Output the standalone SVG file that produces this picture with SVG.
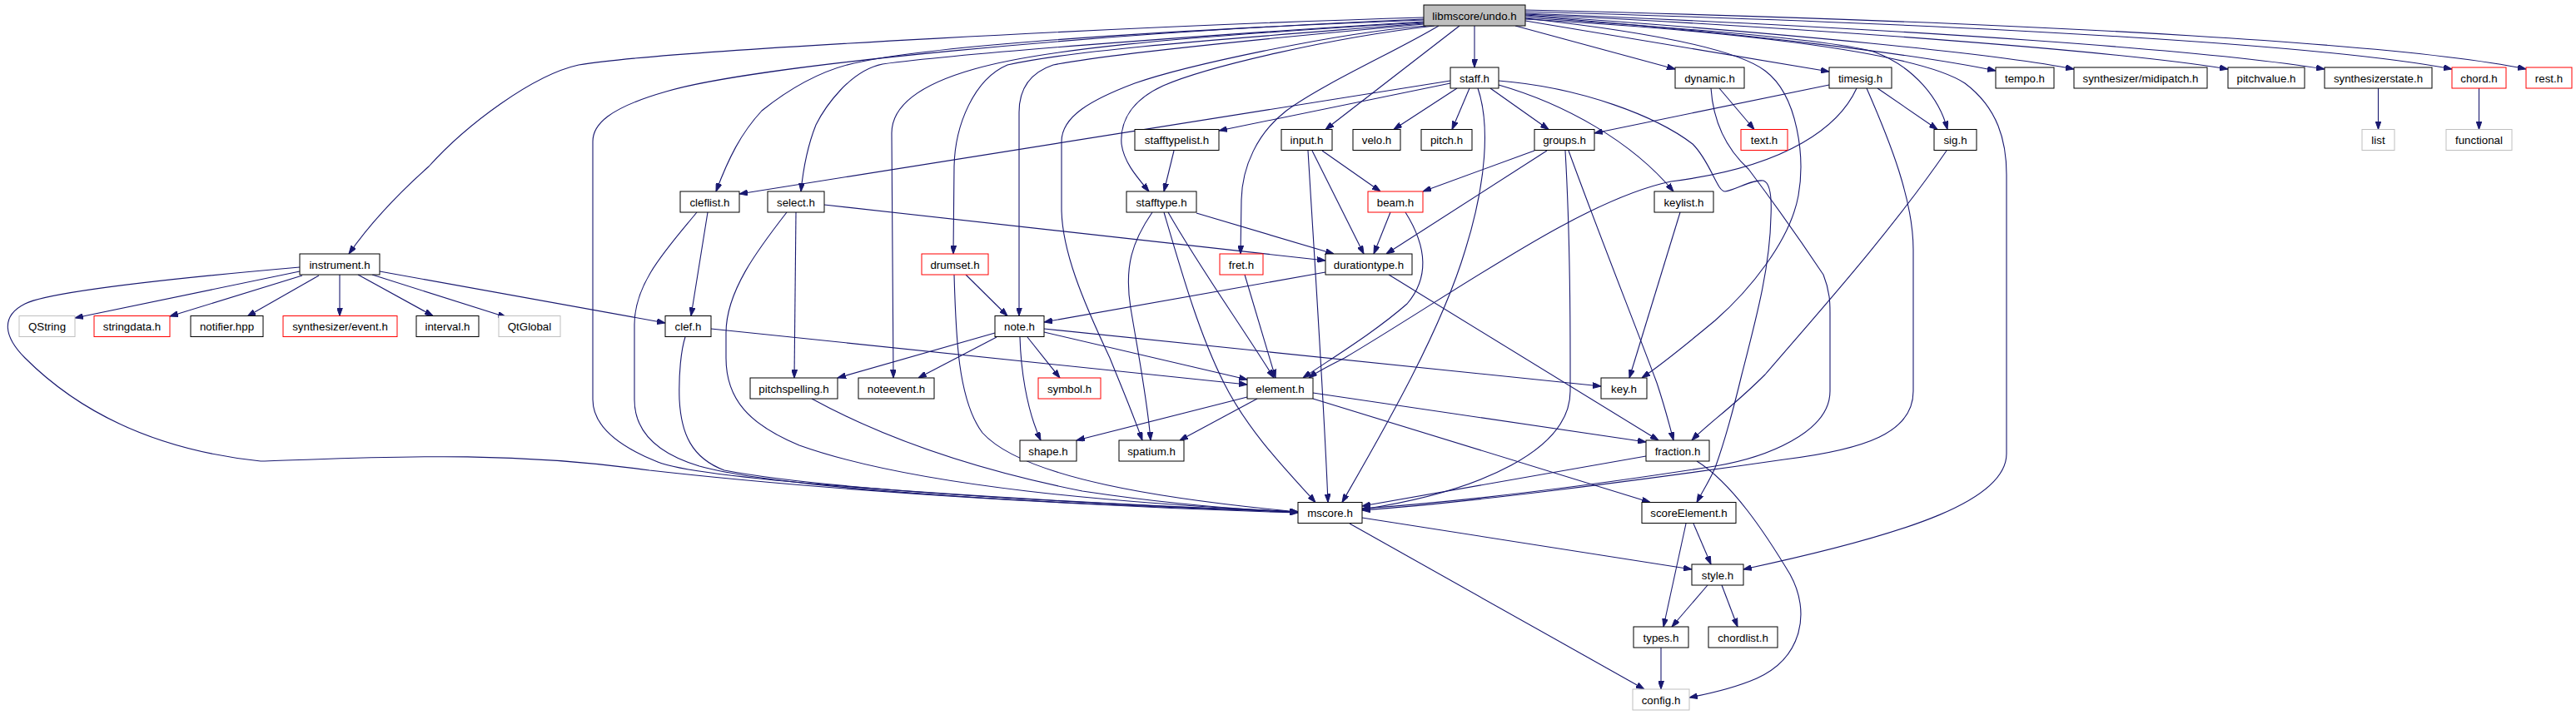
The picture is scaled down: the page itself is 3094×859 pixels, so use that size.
<svg xmlns="http://www.w3.org/2000/svg" width="3094" height="859" viewBox="0 0 3094 859">
<style>
.node rect{fill:#fff;stroke:#000;stroke-width:1}
.node.red rect{stroke:#ff0000}
.node.ext rect{stroke:#bfbfbf}
.node.root rect{fill:#bfbfbf}
.node text{font-family:"Liberation Sans",Arial,sans-serif;font-size:13.3px;fill:#000;text-anchor:middle}
#edges path{fill:none;stroke:#191970;stroke-width:1.1;marker-end:url(#arr)}
</style>
<defs>
<marker id="arr" viewBox="0 0 10 7" refX="10" refY="3.5" markerWidth="10" markerHeight="7" markerUnits="userSpaceOnUse" orient="auto">
<path d="M0,0 L10,3.5 L0,7 z" fill="#191970" stroke="#191970"/>
</marker>
</defs>
<rect width="3094" height="859" fill="#fff"/>
<g id="edges">
<path d="M1710,21 C1400,30 800,60 695,78 C640,90 560,150 515,200 C470,240 440,275 419,305"/>
<path d="M1710,23 C1300,40 900,80 800,110 C730,130 712,150 712,170 L712,480 C712,510 740,535 790,555 C850,580 1300,605 1559,615"/>
<path d="M1710,24 C1300,40 1100,60 1035,74 C990,82 950,105 915,133 C890,160 875,190 860,230"/>
<path d="M1710,26 C1400,45 1150,65 1060,77 C1020,85 990,130 980,150 C970,175 965,200 962,230"/>
<path d="M1710,27 C1400,45 1250,60 1170,83 C1110,100 1071,125 1071,160 L1073,454"/>
<path d="M1710,28 C1500,45 1300,58 1210,78 C1170,95 1147,150 1146,200 L1145,305"/>
<path d="M1710,29 C1500,48 1330,65 1265,78 C1235,88 1224,110 1224,135 L1224,379.5"/>
<path d="M1713,31 C1600,40 1420,80 1363,100 C1310,120 1275,140 1275,170 L1275,250 C1275,300 1300,360 1333,430 C1345,460 1360,495 1372,529"/>
<path d="M1723,31 C1600,45 1450,80 1397,103 C1360,120 1345,145 1347,173 C1350,195 1365,212 1380,230"/>
<path d="M1728,31 C1680,60 1590,100 1545,133 C1510,160 1492,200 1491,240 L1490,305"/>
<path d="M1753,31 L1592,155.5"/>
<path d="M1771,31 L1771,81"/>
<path d="M1820,31 L2012,83"/>
<path d="M1832,25 L2197,86"/>
<path d="M1832,22 C1950,35 2080,55 2120,85 C2160,115 2168,190 2160,235 C2150,290 2100,350 2060,385 C2030,410 2000,435 1972,454"/>
<path d="M1832,21 C2000,32 2200,48 2250,62 C2300,80 2330,120 2339,155.5"/>
<path d="M1832,19 C2100,40 2300,65 2397,85"/>
<path d="M1832,18 C2150,40 2400,65 2491,83"/>
<path d="M1832,17 C2200,35 2550,62 2676,83"/>
<path d="M1832,16 C2300,35 2650,60 2792,83"/>
<path d="M1832,14 C2400,30 2800,55 2945,83"/>
<path d="M1832,12 C2500,28 2900,55 3034,83"/>
<path d="M1832,23 C2050,35 2300,60 2360,100 C2400,130 2410,170 2410,210 L2410,545 C2410,600 2300,640 2094,684"/>
<path d="M1742,97 L888,233"/>
<path d="M1742,100 L1464,157"/>
<path d="M1750,106 L1674,155.5"/>
<path d="M1765,106 L1744,155.5"/>
<path d="M1790,106 L1860,155.5"/>
<path d="M1800,102 C1880,125 1960,170 2010,230"/>
<path d="M1775,106 C1790,150 1785,220 1760,300 C1730,400 1660,520 1612,603.5"/>
<path d="M1800,97 C1900,105 1990,140 2033,173 C2055,195 2062,230 2072,230 C2085,228 2105,215 2118,217 C2127,220 2128,240 2127,260 C2126,320 2110,380 2092,450 C2080,500 2068,540 2060,562 C2052,580 2045,590 2038,603.5"/>
<path d="M2065,106 L2107,155.5"/>
<path d="M2055,106 C2058,150 2075,180 2100,203 C2130,243 2170,300 2190,330 C2198,350 2198,365 2198,375 L2198,470 C2198,520 2120,550 2060,560 C1900,585 1750,603 1636,611"/>
<path d="M2197,102 L1915,160"/>
<path d="M2230,106 C2210,150 2150,200 2007,218 C1900,240 1750,350 1615,430 C1595,440 1580,448 1572,454"/>
<path d="M2255,106 L2327,155.5"/>
<path d="M2242,106 C2270,170 2298,240 2298,300 L2298,470 C2298,520 2240,540 2143,552 C1950,580 1750,605 1636,613"/>
<path d="M1843,181 L1709,230"/>
<path d="M1858,181 L1665,305"/>
<path d="M1880,181 C1884,250 1886,350 1886,430 L1886,470 C1886,540 1780,590 1636,612"/>
<path d="M1884,181 C1920,280 1960,380 1990,460 C2000,490 2005,510 2010,529"/>
<path d="M1588,181 L1658,230"/>
<path d="M1576,181 L1638,305"/>
<path d="M1571,181 C1580,330 1590,480 1595,603.5"/>
<path d="M1670,255 L1650,305"/>
<path d="M1688,255 C1710,290 1720,330 1690,365 C1650,400 1600,430 1565,454"/>
<path d="M1592,327 L1254,387"/>
<path d="M1668,330 L1992,529"/>
<path d="M990,246 L1592,313"/>
<path d="M945,255 C910,300 872,350 872,400 L872,430 C872,480 900,510 960,535 C1100,585 1350,605 1559,615"/>
<path d="M956,255 L954,454"/>
<path d="M1437,256 L1602,305"/>
<path d="M1410,181 L1398,230"/>
<path d="M1384,255 C1360,290 1350,320 1358,370 C1368,430 1378,480 1382,529"/>
<path d="M1403,255 C1440,320 1490,390 1530,454"/>
<path d="M1398,255 C1420,330 1440,400 1470,460 C1500,520 1550,570 1580,603.5"/>
<path d="M1495,330 L1532,454"/>
<path d="M1160,330 L1210,379.5"/>
<path d="M1146,330 C1148,400 1150,480 1180,520 C1230,575 1400,600 1559,615"/>
<path d="M1197,405 L1103,454"/>
<path d="M1195,400 L1006,454"/>
<path d="M1234,405 L1273,454"/>
<path d="M1225,405 C1226,440 1232,490 1250,529"/>
<path d="M1254,399 L1498,456"/>
<path d="M1254,395 L1923,464"/>
<path d="M854,395 L1498,462"/>
<path d="M823,405 C818,420 815,450 816,480 C818,520 830,550 870,565 C1000,590 1300,605 1559,615"/>
<path d="M850,255 L830,379.5"/>
<path d="M837,255 C800,300 762,340 762,390 L762,480 C762,520 790,545 840,560 C950,590 1300,607 1559,615"/>
<path d="M975,479 C1050,520 1150,560 1300,590 C1400,605 1480,612 1559,615"/>
<path d="M360,321 C200,335 60,350 30,365 C0,380 5,405 30,430 C90,490 180,540 313,554 C450,550 600,540 780,565 C1000,590 1300,608 1559,616"/>
<path d="M360,326 L90,382"/>
<path d="M363,331 L204,380"/>
<path d="M383,331 L297,380"/>
<path d="M408,330 L408,379.5"/>
<path d="M430,330 L520,379.5"/>
<path d="M447,330 L608,381"/>
<path d="M456,326 L799,388"/>
<path d="M2018,255 L1957,454"/>
<path d="M2338,181 C2270,280 2180,380 2120,450 C2080,490 2050,510 2032,529"/>
<path d="M1498,477 L1293,529"/>
<path d="M1510,479 L1417,529"/>
<path d="M1577,472 L1977,531"/>
<path d="M1577,479 L1982,603.5"/>
<path d="M1977,548 L1636,608"/>
<path d="M2038,554 C2080,580 2120,640 2150,690 C2175,735 2165,790 2110,815 C2080,828 2050,834 2029,838"/>
<path d="M1636,622 L2032,684"/>
<path d="M1621,629 L1975,828"/>
<path d="M2025,629 L1998,753"/>
<path d="M2034,629 L2055,678"/>
<path d="M2051,703 L2008,753"/>
<path d="M2068,703 L2087,753"/>
<path d="M1995,778 L1995,828"/>
<path d="M2856.5,106 L2856.5,155.5"/>
<path d="M2977.5,106 L2977.5,155.5"/>
</g>
<g id="n-undo" class="node root"><rect x="1710" y="6" width="122" height="25"/><text x="1771" y="23.5">libmscore/undo.h</text></g>
<g id="n-staff" class="node"><rect x="1742" y="81" width="58" height="25"/><text x="1771" y="98.5">staff.h</text></g>
<g id="n-dynamic" class="node"><rect x="2012" y="81" width="83" height="25"/><text x="2053.5" y="98.5">dynamic.h</text></g>
<g id="n-timesig" class="node"><rect x="2197" y="81" width="75" height="25"/><text x="2234.5" y="98.5">timesig.h</text></g>
<g id="n-tempo" class="node"><rect x="2397" y="81" width="70" height="25"/><text x="2432" y="98.5">tempo.h</text></g>
<g id="n-midipatch" class="node"><rect x="2491" y="81" width="160" height="25"/><text x="2571" y="98.5">synthesizer/midipatch.h</text></g>
<g id="n-pitchvalue" class="node"><rect x="2676" y="81" width="92" height="25"/><text x="2722" y="98.5">pitchvalue.h</text></g>
<g id="n-synthstate" class="node"><rect x="2792" y="81" width="129" height="25"/><text x="2856.5" y="98.5">synthesizerstate.h</text></g>
<g id="n-chord" class="node red"><rect x="2945" y="81" width="65" height="25"/><text x="2977.5" y="98.5">chord.h</text></g>
<g id="n-rest" class="node red"><rect x="3034" y="81" width="55" height="25"/><text x="3061.5" y="98.5">rest.h</text></g>
<g id="n-stafftypelist" class="node"><rect x="1363" y="155.5" width="101" height="25"/><text x="1413.5" y="173">stafftypelist.h</text></g>
<g id="n-input" class="node"><rect x="1539" y="155.5" width="61" height="25"/><text x="1569.5" y="173">input.h</text></g>
<g id="n-velo" class="node"><rect x="1625" y="155.5" width="57" height="25"/><text x="1653.5" y="173">velo.h</text></g>
<g id="n-pitch" class="node"><rect x="1707" y="155.5" width="61" height="25"/><text x="1737.5" y="173">pitch.h</text></g>
<g id="n-groups" class="node"><rect x="1843" y="155.5" width="72" height="25"/><text x="1879" y="173">groups.h</text></g>
<g id="n-text" class="node red"><rect x="2091" y="155.5" width="56" height="25"/><text x="2119" y="173">text.h</text></g>
<g id="n-sig" class="node"><rect x="2323" y="155.5" width="51" height="25"/><text x="2348.5" y="173">sig.h</text></g>
<g id="n-list" class="node ext"><rect x="2837" y="155.5" width="39" height="25"/><text x="2856.5" y="173">list</text></g>
<g id="n-functional" class="node ext"><rect x="2938" y="155.5" width="79" height="25"/><text x="2977.5" y="173">functional</text></g>
<g id="n-cleflist" class="node"><rect x="817" y="230" width="71" height="25"/><text x="852.5" y="247.5">cleflist.h</text></g>
<g id="n-select" class="node"><rect x="922" y="230" width="68" height="25"/><text x="956" y="247.5">select.h</text></g>
<g id="n-stafftype" class="node"><rect x="1353" y="230" width="84" height="25"/><text x="1395" y="247.5">stafftype.h</text></g>
<g id="n-beam" class="node red"><rect x="1643" y="230" width="66" height="25"/><text x="1676" y="247.5">beam.h</text></g>
<g id="n-keylist" class="node"><rect x="1987" y="230" width="71" height="25"/><text x="2022.5" y="247.5">keylist.h</text></g>
<g id="n-instrument" class="node"><rect x="360" y="305" width="96" height="25"/><text x="408" y="322.5">instrument.h</text></g>
<g id="n-drumset" class="node red"><rect x="1107" y="305" width="80" height="25"/><text x="1147" y="322.5">drumset.h</text></g>
<g id="n-fret" class="node red"><rect x="1465" y="305" width="52" height="25"/><text x="1491" y="322.5">fret.h</text></g>
<g id="n-durationtype" class="node"><rect x="1592" y="305" width="104" height="25"/><text x="1644" y="322.5">durationtype.h</text></g>
<g id="n-qstring" class="node ext"><rect x="23" y="379.5" width="67" height="25"/><text x="56.5" y="397">QString</text></g>
<g id="n-stringdata" class="node red"><rect x="113" y="379.5" width="91" height="25"/><text x="158.5" y="397">stringdata.h</text></g>
<g id="n-notifier" class="node"><rect x="229" y="379.5" width="87" height="25"/><text x="272.5" y="397">notifier.hpp</text></g>
<g id="n-synthevent" class="node red"><rect x="340" y="379.5" width="137" height="25"/><text x="408.5" y="397">synthesizer/event.h</text></g>
<g id="n-interval" class="node"><rect x="500" y="379.5" width="75" height="25"/><text x="537.5" y="397">interval.h</text></g>
<g id="n-qtglobal" class="node ext"><rect x="599" y="379.5" width="74" height="25"/><text x="636" y="397">QtGlobal</text></g>
<g id="n-clef" class="node"><rect x="799" y="379.5" width="55" height="25"/><text x="826.5" y="397">clef.h</text></g>
<g id="n-note" class="node"><rect x="1195" y="379.5" width="59" height="25"/><text x="1224.5" y="397">note.h</text></g>
<g id="n-pitchspelling" class="node"><rect x="901" y="454" width="105" height="25"/><text x="953.5" y="471.5">pitchspelling.h</text></g>
<g id="n-noteevent" class="node"><rect x="1031" y="454" width="91" height="25"/><text x="1076.5" y="471.5">noteevent.h</text></g>
<g id="n-symbol" class="node red"><rect x="1247" y="454" width="75" height="25"/><text x="1284.5" y="471.5">symbol.h</text></g>
<g id="n-element" class="node"><rect x="1498" y="454" width="79" height="25"/><text x="1537.5" y="471.5">element.h</text></g>
<g id="n-key" class="node"><rect x="1923" y="454" width="55" height="25"/><text x="1950.5" y="471.5">key.h</text></g>
<g id="n-shape" class="node"><rect x="1225" y="529" width="68" height="25"/><text x="1259" y="546.5">shape.h</text></g>
<g id="n-spatium" class="node"><rect x="1344" y="529" width="78" height="25"/><text x="1383" y="546.5">spatium.h</text></g>
<g id="n-fraction" class="node"><rect x="1977" y="529" width="76" height="25"/><text x="2015" y="546.5">fraction.h</text></g>
<g id="n-mscore" class="node"><rect x="1559" y="603.5" width="77" height="25"/><text x="1597.5" y="621">mscore.h</text></g>
<g id="n-scoreelement" class="node"><rect x="1972" y="603.5" width="113" height="25"/><text x="2028.5" y="621">scoreElement.h</text></g>
<g id="n-style" class="node"><rect x="2032" y="678" width="62" height="25"/><text x="2063" y="695.5">style.h</text></g>
<g id="n-types" class="node"><rect x="1962" y="753" width="66" height="25"/><text x="1995" y="770.5">types.h</text></g>
<g id="n-chordlist" class="node"><rect x="2052" y="753" width="83" height="25"/><text x="2093.5" y="770.5">chordlist.h</text></g>
<g id="n-config" class="node ext"><rect x="1961" y="828" width="68" height="25"/><text x="1995" y="845.5">config.h</text></g>
</svg>
